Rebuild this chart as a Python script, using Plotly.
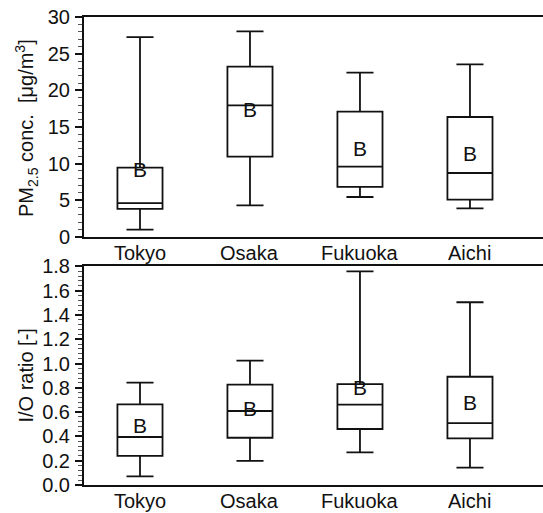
import plotly.graph_objects as go
from plotly.subplots import make_subplots

# Sampling sites
sites = ["Tokyo", "Osaka", "Fukuoka", "Aichi"]

# PM2.5 concentration statistics [ug/m3]
pm_lower = [0.96, 4.29, 5.43, 3.88]
pm_q1 = [3.8, 10.94, 6.8, 5.06]
pm_median = [4.6, 17.97, 9.57, 8.71]
pm_q3 = [9.44, 23.25, 17.1, 16.37]
pm_upper = [27.3, 28.08, 22.43, 23.57]
pm_mean = [8.9, 17.1, 11.76, 11.03]

# Indoor/outdoor ratio statistics [-]
io_lower = [0.071, 0.198, 0.269, 0.143]
io_q1 = [0.239, 0.389, 0.461, 0.384]
io_median = [0.395, 0.609, 0.661, 0.51]
io_q3 = [0.664, 0.826, 0.831, 0.891]
io_upper = [0.842, 1.023, 1.759, 1.504]
io_mean = [0.475, 0.615, 0.788, 0.664]

FONT = "Liberation Sans, Arial, sans-serif"
FS = 20
W, H = 543, 513

fig = make_subplots(rows=2, cols=1)

panels = [
    (1, pm_lower, pm_q1, pm_median, pm_q3, pm_upper, pm_mean),
    (2, io_lower, io_q1, io_median, io_q3, io_upper, io_mean),
]
for row, lo, q1, med, q3, hi, mean in panels:
    fig.add_trace(
        go.Box(
            x=sites, lowerfence=lo, q1=q1, median=med, q3=q3, upperfence=hi,
            width=0.41, whiskerwidth=0.6,
            fillcolor="rgba(255,255,255,0)",
            line=dict(color="#111111", width=1.8),
            boxpoints=False, showlegend=False, hoverinfo="skip",
        ),
        row=row, col=1,
    )
    fig.add_trace(
        go.Scatter(
            x=sites, y=mean, mode="text", text=["B"] * len(sites),
            textposition="middle center",
            textfont=dict(family=FONT, size=21, color="#111111"),
            showlegend=False, hoverinfo="skip",
        ),
        row=row, col=1,
    )

x_left = 84 / W
dom_top = [1 - 236.7 / H, 1 - 17.3 / H]
dom_bot = [1 - 485 / H, 1 - 266.3 / H]

# Category labels are placed as annotations on the category axis so they sit
# snugly under each panel.
xcommon = dict(
    domain=[x_left, 1.0], range=[-0.509, 3.664], automargin=False,
    showline=True, linecolor="#111111", linewidth=2, mirror=True,
    ticks="", showgrid=False, zeroline=False, showticklabels=False,
)
ycommon = dict(
    automargin=False,
    showline=True, linecolor="#111111", linewidth=2, mirror=False,
    ticks="outside", ticklen=7, tickwidth=1.5, tickcolor="#111111",
    showgrid=False, zeroline=False, ticklabelstandoff=1,
    tickfont=dict(family=FONT, size=FS, color="#111111"),
)

fig.update_layout(
    width=W, height=H,
    margin=dict(l=0, r=0, t=0, b=0),
    paper_bgcolor="white", plot_bgcolor="white",
    font=dict(family=FONT, size=FS, color="#111111"),
    xaxis=dict(**xcommon),
    xaxis2=dict(**xcommon),
    yaxis=dict(
        **ycommon, domain=dom_top, range=[0, 30], tickvals=[0, 5, 10, 15, 20, 25, 30],
        minor=dict(ticks="outside", ticklen=4, tickwidth=1.2, tickcolor="#555555", dtick=1, showgrid=False),
    ),
    yaxis2=dict(
        **ycommon, domain=dom_bot, range=[0, 1.8], dtick=0.2, tickformat=".1f",
        minor=dict(ticks="outside", ticklen=4, tickwidth=1.2, tickcolor="#555555", dtick=0.04, showgrid=False),
    ),
)

for xref, ypix in (("x", 253), ("x2", 501)):
    for s in sites:
        fig.add_annotation(
            x=s, y=1 - ypix / H, xref=xref, yref="paper",
            xanchor="center", yanchor="middle", text=s, showarrow=False,
            font=dict(family=FONT, size=FS, color="#111111"),
        )

# Y-axis titles
fig.add_annotation(
    x=26 / W, y=1 - 128 / H, xref="paper", yref="paper",
    xanchor="center", yanchor="middle",
    text="PM<sub>2.5</sub> conc.  [μg/m<sup>3</sup>]", textangle=-90,
    showarrow=False, font=dict(family=FONT, size=FS, color="#111111"),
)
fig.add_annotation(
    x=26 / W, y=1 - 375.6 / H, xref="paper", yref="paper",
    xanchor="center", yanchor="middle",
    text="I/O ratio [-]", textangle=-90,
    showarrow=False, font=dict(family=FONT, size=FS, color="#111111"),
)

fig.write_html("out.html")
